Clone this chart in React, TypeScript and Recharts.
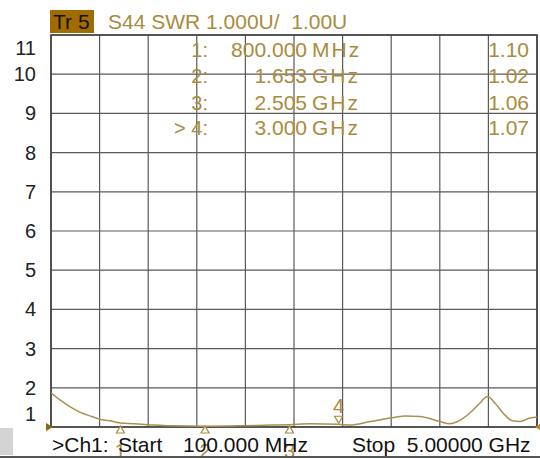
import React from "react";
import {
  LineChart,
  Line,
  XAxis,
  YAxis,
  CartesianGrid,
  ReferenceArea,
  ReferenceDot,
} from "recharts";

// trace (GHz / SWR)
const freqGHz = [
  0.1, 0.19, 0.29, 0.39, 0.52, 0.59, 0.73, 0.8, 0.87, 1.08, 1.3, 1.653, 2.0,
  2.31, 2.505, 2.71, 3.0, 3.11, 3.32, 3.57, 3.67, 3.82, 4.02, 4.12, 4.2, 4.32,
  4.42, 4.5, 4.58, 4.66, 4.75, 4.83, 4.93, 5.0,
];
const swr = [
  1.87, 1.69, 1.52, 1.38, 1.26, 1.2, 1.14, 1.1, 1.09, 1.06, 1.03, 1.02, 1.03,
  1.05, 1.06, 1.08, 1.07, 1.05, 1.14, 1.25, 1.28, 1.27, 1.14, 1.08, 1.14, 1.35,
  1.6, 1.78, 1.6, 1.35, 1.16, 1.14, 1.23, 1.25,
];

const xTicks = [0.1, 0.59, 1.08, 1.57, 2.06, 2.55, 3.04, 3.53, 4.02, 4.51, 5.0];
const xDomain = [0.1, 5.0];
const yTicks = [1, 2, 3, 4, 5, 6, 7, 8, 9, 10, 11];

const markerIds = ["1", "2", "3", "4"];
const markerFreqs = [0.8, 1.653, 2.505, 3.0];
const markerSwr = [1.1, 1.02, 1.06, 1.07];
const activeMarker = 3;

const gold = "#a98b3d";
const font = "'Liberation Sans', Arial, sans-serif";

const data = freqGHz.map((f, i) => ({ f, swr: swr[i] }));

function fmtFreq(f: number) {
  return f < 1 ? `${(f * 1000).toFixed(3)}` : `${f.toFixed(3)}`;
}
function fmtUnit(f: number) {
  return f < 1 ? "MHz" : "GHz";
}

// grid verticals at the 10 screen divisions
const vGrid = ({ xAxis, offset }: any) => {
  if (xAxis && typeof xAxis.scale === "function") {
    return xTicks.map((t) => xAxis.scale(t));
  }
  const span = xDomain[1] - xDomain[0];
  return xTicks.map((t) => offset.left + ((t - xDomain[0]) / span) * offset.width);
};

const YTick = (props: any) => {
  const { y, payload } = props;
  let dy = 7;
  if (payload.value === 11) dy = 20;
  if (payload.value === 1) dy = -6;
  return (
    <text x={36} y={y + dy} textAnchor="end" fontSize={20} fill="#222" fontFamily={font}>
      {payload.value}
    </text>
  );
};

const BottomMarker = (id: string) => (props: any) => {
  const { cx, cy } = props;
  return (
    <g>
      <polygon
        points={`${cx},${cy - 1} ${cx - 4},${cy + 6} ${cx + 4},${cy + 6}`}
        fill="#fff"
        stroke={gold}
        strokeWidth={1.2}
      />
      <text x={cx} y={cy + 31} textAnchor="middle" fontSize={20} fill={gold} fontFamily={font}>
        {id}
      </text>
    </g>
  );
};

const ActiveMarker = (id: string) => (props: any) => {
  const { cx, cy } = props;
  return (
    <g>
      <polygon
        points={`${cx},${cy - 1} ${cx - 4},${cy - 8} ${cx + 4},${cy - 8}`}
        fill="#fff"
        stroke={gold}
        strokeWidth={1.2}
      />
      <text x={cx} y={cy - 11} textAnchor="middle" fontSize={20} fill={gold} fontFamily={font}>
        {id}
      </text>
    </g>
  );
};

const RefArrow = (props: any) => {
  const { cx, cy } = props;
  return (
    <polygon
      points={`${cx + 2},${cy} ${cx - 5},${cy - 4} ${cx - 5},${cy + 4}`}
      fill="#8a6a10"
    />
  );
};

const EndTick = (props: any) => {
  const { cx, cy } = props;
  return (
    <polygon
      points={`${cx - 2},${cy} ${cx + 3},${cy - 3} ${cx + 3},${cy + 3}`}
      fill="#c08a20"
    />
  );
};

export default function App() {
  const rowY = [50, 76, 103, 128];
  return (
    <div style={{ position: "absolute", left: 0, top: 0, width: 540, height: 459, background: "#fff" }}>
      <LineChart
        width={540}
        height={459}
        data={data}
        margin={{ top: 35, right: 3, left: 0, bottom: 32 }}
      >
        <CartesianGrid
          stroke="#5a5a5a"
          strokeWidth={1.2}
          verticalCoordinatesGenerator={vGrid}
        />
        <XAxis
          dataKey="f"
          type="number"
          domain={xDomain}
          ticks={xTicks}
          allowDataOverflow
          tick={false}
          axisLine={false}
          tickLine={false}
          height={0}
        />
        <YAxis
          type="number"
          domain={[1, 11]}
          ticks={yTicks}
          width={51}
          axisLine={false}
          tickLine={false}
          tick={<YTick />}
          interval={0}
        />
        <ReferenceArea
          x1={0.1}
          x2={5}
          y1={1}
          y2={11}
          fill="none"
          stroke="#3a3a3a"
          strokeWidth={1.5}
          ifOverflow="visible"
        />
        <Line
          dataKey="swr"
          type="monotone"
          stroke="#a8914f"
          strokeWidth={1.5}
          dot={false}
          isAnimationActive={false}
        />
        {markerIds.map((id, i) =>
          i === activeMarker ? (
            <ReferenceDot
              key={id}
              x={markerFreqs[i]}
              y={markerSwr[i]}
              ifOverflow="visible"
              shape={ActiveMarker(id)}
            />
          ) : (
            <ReferenceDot
              key={id}
              x={markerFreqs[i]}
              y={1}
              ifOverflow="visible"
              shape={BottomMarker(id)}
            />
          )
        )}
        <ReferenceDot x={0.1} y={1} ifOverflow="visible" shape={<RefArrow />} />
        <ReferenceDot x={5} y={1} ifOverflow="visible" shape={<EndTick />} />
      </LineChart>

      <svg
        width={540}
        height={459}
        style={{ position: "absolute", left: 0, top: 0, pointerEvents: "none" }}
        fontFamily={font}
      >
        <rect x={50} y={10} width={44} height={23} fill="#a06c00" />
        <text x={53} y={29} fontSize={21} fill="#111">
          Tr 5
        </text>
        <text x={108} y={29} fontSize={21} fill={gold} xmlSpace="preserve">
          S44 SWR 1.000U/  1.00U
        </text>

        {markerIds.map((id, i) => (
          <g key={id}>
            <text x={208} y={rowY[i] + 7} textAnchor="end" fontSize={20} fill={gold} xmlSpace="preserve">
              {i === activeMarker ? `> ${id}:` : `${id}:`}
            </text>
            <text x={307} y={rowY[i] + 7} textAnchor="end" fontSize={21} fill={gold}>
              {fmtFreq(markerFreqs[i])}
            </text>
            <text x={312} y={rowY[i] + 7} fontSize={21} fill={gold} letterSpacing={2}>
              {fmtUnit(markerFreqs[i])}
            </text>
            <text x={529} y={rowY[i] + 7} textAnchor="end" fontSize={21} fill={gold}>
              {markerSwr[i].toFixed(2)}
            </text>
          </g>
        ))}

        <rect x={0} y={428} width={13} height={27} fill="#d4d4d4" />
        <text x={52} y={452} fontSize={21} fill="#111">
          &gt;Ch1:
        </text>
        <text x={118} y={452} fontSize={21} fill="#111">
          Start
        </text>
        <text x={183} y={452} fontSize={21} fill="#111">
          100.000 MHz
        </text>
        <text x={352} y={452} fontSize={21} fill="#111" xmlSpace="preserve">
          Stop  5.00000 GHz
        </text>
        <line x1={0} y1={457} x2={540} y2={457} stroke="#555" strokeWidth={2} />
      </svg>
    </div>
  );
}
